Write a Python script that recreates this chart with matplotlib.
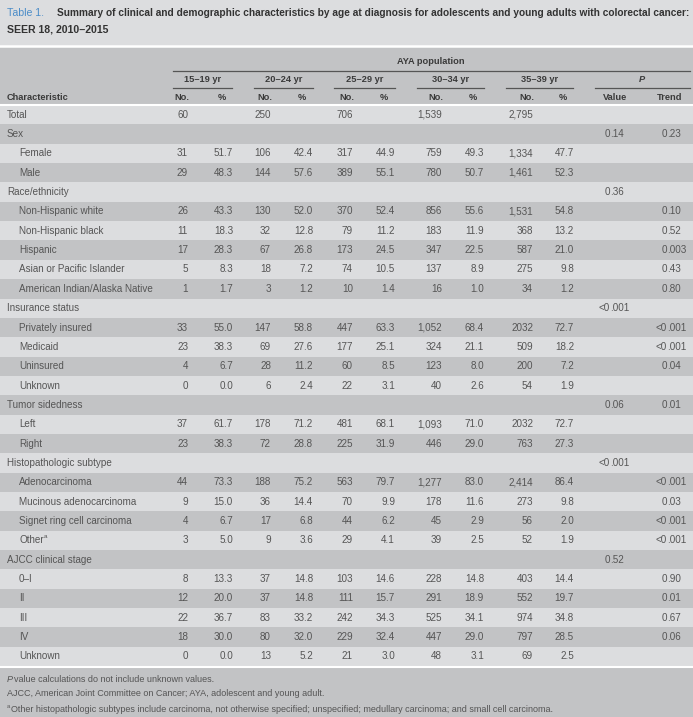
import matplotlib
matplotlib.use('Agg')
import matplotlib.pyplot as plt
from matplotlib.patches import Rectangle

# table content
labels = ["Total", "Sex", "Female", "Male", "Race/ethnicity", "Non-Hispanic white",
          "Non-Hispanic black", "Hispanic", "Asian or Pacific Islander",
          "American Indian/Alaska Native", "Insurance status", "Privately insured",
          "Medicaid", "Uninsured", "Unknown", "Tumor sidedness", "Left", "Right",
          "Histopathologic subtype", "Adenocarcinoma", "Mucinous adenocarcinoma",
          "Signet ring cell carcinoma", "Other", "AJCC clinical stage", "0–I", "II",
          "III", "IV", "Unknown"]
indent = [0, 0, 1, 1, 0, 1, 1, 1, 1, 1, 0, 1, 1, 1, 1, 0, 1, 1, 0, 1, 1, 1, 1, 0, 1, 1, 1, 1, 1]

n_15_19 = ["60", "", "31", "29", "", "26", "11", "17", "5", "1", "", "33", "23", "4", "0", "",
           "37", "23", "", "44", "9", "4", "3", "", "8", "12", "22", "18", "0"]
p_15_19 = ["", "", "51.7", "48.3", "", "43.3", "18.3", "28.3", "8.3", "1.7", "", "55.0", "38.3",
           "6.7", "0.0", "", "61.7", "38.3", "", "73.3", "15.0", "6.7", "5.0", "", "13.3", "20.0",
           "36.7", "30.0", "0.0"]
n_20_24 = ["250", "", "106", "144", "", "130", "32", "67", "18", "3", "", "147", "69", "28", "6", "",
           "178", "72", "", "188", "36", "17", "9", "", "37", "37", "83", "80", "13"]
p_20_24 = ["", "", "42.4", "57.6", "", "52.0", "12.8", "26.8", "7.2", "1.2", "", "58.8", "27.6",
           "11.2", "2.4", "", "71.2", "28.8", "", "75.2", "14.4", "6.8", "3.6", "", "14.8", "14.8",
           "33.2", "32.0", "5.2"]
n_25_29 = ["706", "", "317", "389", "", "370", "79", "173", "74", "10", "", "447", "177", "60", "22",
           "", "481", "225", "", "563", "70", "44", "29", "", "103", "111", "242", "229", "21"]
p_25_29 = ["", "", "44.9", "55.1", "", "52.4", "11.2", "24.5", "10.5", "1.4", "", "63.3", "25.1",
           "8.5", "3.1", "", "68.1", "31.9", "", "79.7", "9.9", "6.2", "4.1", "", "14.6", "15.7",
           "34.3", "32.4", "3.0"]
n_30_34 = ["1,539", "", "759", "780", "", "856", "183", "347", "137", "16", "", "1,052", "324",
           "123", "40", "", "1,093", "446", "", "1,277", "178", "45", "39", "", "228", "291", "525",
           "447", "48"]
p_30_34 = ["", "", "49.3", "50.7", "", "55.6", "11.9", "22.5", "8.9", "1.0", "", "68.4", "21.1",
           "8.0", "2.6", "", "71.0", "29.0", "", "83.0", "11.6", "2.9", "2.5", "", "14.8", "18.9",
           "34.1", "29.0", "3.1"]
n_35_39 = ["2,795", "", "1,334", "1,461", "", "1,531", "368", "587", "275", "34", "", "2032", "509",
           "200", "54", "", "2032", "763", "", "2,414", "273", "56", "52", "", "403", "552", "974",
           "797", "69"]
p_35_39 = ["", "", "47.7", "52.3", "", "54.8", "13.2", "21.0", "9.8", "1.2", "", "72.7", "18.2",
           "7.2", "1.9", "", "72.7", "27.3", "", "86.4", "9.8", "2.0", "1.9", "", "14.4", "19.7",
           "34.8", "28.5", "2.5"]
p_value = ["", "0.14", "", "", "0.36", "", "", "", "", "", "<0.001", "", "", "", "", "0.06", "", "",
           "<0.001", "", "", "", "", "0.52", "", "", "", "", ""]
p_trend = ["", "0.23", "", "", "", "0.10", "0.52", "0.003", "0.43", "0.80", "", "<0.001", "<0.001",
           "0.04", "", "0.01", "", "", "", "<0.001", "0.03", "<0.001", "<0.001", "", "0.90", "0.01",
           "0.67", "0.06", ""]

age_groups = ["15–19 yr", "20–24 yr", "25–29 yr", "30–34 yr", "35–39 yr"]
counts = [n_15_19, n_20_24, n_25_29, n_30_34, n_35_39]
pcts = [p_15_19, p_20_24, p_25_29, p_30_34, p_35_39]

title_1 = ("Summary of clinical and demographic characteristics by age at diagnosis for "
           "adolescents and young adults with colorectal cancer:")
title_2 = "SEER 18, 2010–2015"
footnotes = ["value calculations do not include unknown values.",
             "AJCC, American Joint Committee on Cancer; AYA, adolescent and young adult.",
             "Other histopathologic subtypes include carcinoma, not otherwise specified; "
             "unspecified; medullary carcinoma; and small cell carcinoma."]

# styling
LIGHT = '#dcdddf'
DARK = '#c2c3c5'
TXT = '#555555'
HEAD = '#3a3a3a'
BLUE = '#4a8cc8'
BODY = ['Liberation Sans', 'DejaVu Sans']

n_right = [188, 271, 353, 442, 533]
p_right = [233, 313, 395, 484, 574]
grp_span = [(173, 232), (254, 313), (334, 395), (417, 484), (506, 573)]
row_top = 105.0
row_h = 19.35

fig = plt.figure(figsize=(6.93, 7.17), dpi=100, facecolor=LIGHT)
ax = fig.add_axes([0, 0, 1, 1])
ax.set_xlim(0, 693)
ax.set_ylim(717, 0)
ax.axis('off')
renderer = fig.canvas.get_renderer()


def right_edge(t):
    bb = t.get_window_extent(renderer=renderer)
    return ax.transData.inverted().transform((bb.x1, bb.y0))[0]


def put_decimal(x, y, s, **kw):
    i = s.index('.')
    ax.text(x, y, s[:i], ha='right', **kw)
    ax.text(x, y, s[i:], ha='left', **kw)


# title, sized so the first line ends near the right edge like the original
t1 = ax.text(57, 13, title_1, color='#333333', family=BODY, fontsize=7.0,
             fontweight='bold', va='center')
fs = 7.0 * (688 - 57) / (right_edge(t1) - 57)
t1.set_fontsize(fs)
ax.text(7, 13, "Table 1.", color=BLUE, family=BODY, fontsize=fs + 0.3, va='center')
ax.text(7, 29, title_2, color='#333333', family=BODY, fontsize=fs + 0.3,
        fontweight='bold', va='center')

# header band
ax.add_patch(Rectangle((0, 47), 693, row_top - 47, color=DARK, lw=0))
ax.plot([0, 693], [46, 46], color='white', lw=1.8)
ax.plot([173, 690], [70.5, 70.5], color='#555555', lw=0.9)
hk = dict(va='center', color=HEAD, family=BODY, fontsize=6.7, fontweight='bold')
ax.text(431, 62, "AYA population", ha='center', **hk)
for k, g in enumerate(age_groups):
    a, b = grp_span[k]
    ax.plot([a, b], [87.5, 87.5], color='#555555', lw=0.9)
    ax.text((a + b) / 2, 79, g, ha='center', **hk)
    ax.text(n_right[k] - 6, 97, "No.", ha='center', **hk)
    ax.text(p_right[k] - 11, 97, "%", ha='center', **hk)
ax.plot([595, 690], [87.5, 87.5], color='#555555', lw=0.9)
ax.text(642, 79, "P", ha='center', style='italic', **hk)
ax.text(615, 97, "Value", ha='center', **hk)
ax.text(670, 97, "Trend", ha='center', **hk)
ax.text(7, 97, "Characteristic", ha='left', **hk)

# body rows
bk = dict(va='center', color=TXT, family=BODY, fontsize=7.1)
for i, lab in enumerate(labels):
    top = row_top + i * row_h
    ax.add_patch(Rectangle((0, top), 693, row_h, color=LIGHT if i % 2 == 0 else DARK, lw=0))
    y = top + row_h / 2
    t = ax.text(7 + 12 * indent[i], y, lab, ha='left', **bk)
    if lab == "Other":
        ax.text(right_edge(t) + 0.5, y - 3.5, "a", ha='left', va='center', color=TXT,
                family=BODY, fontsize=4.6)
    for k in range(5):
        if counts[k][i]:
            ax.text(n_right[k], y, counts[k][i], ha='right', **bk)
        if pcts[k][i]:
            ax.text(p_right[k], y, pcts[k][i], ha='right', **bk)
    if p_value[i]:
        put_decimal(610, y, p_value[i], **bk)
    if p_trend[i]:
        put_decimal(667, y, p_trend[i], **bk)

bottom = row_top + len(labels) * row_h
ax.plot([0, 693], [row_top, row_top], color='white', lw=1.5)
ax.add_patch(Rectangle((0, bottom + 1.5), 693, 717 - bottom, color=DARK, lw=0))
ax.plot([0, 693], [bottom + 0.8, bottom + 0.8], color='white', lw=1.5)

# footnotes
fk = dict(va='center', color=TXT, family=BODY, fontsize=6.5)
tp = ax.text(7, 679, "P", style='italic', ha='left', **fk)
ax.text(right_edge(tp) + 1.5, 679, footnotes[0], ha='left', **fk)
ax.text(7, 694, footnotes[1], ha='left', **fk)
ax.text(7, 706, "a", ha='left', va='center', color=TXT, family=BODY, fontsize=4.2)
ax.text(11, 709, footnotes[2], ha='left', **fk)

plt.savefig('out.png', dpi=100, facecolor=LIGHT)
plt.close()
